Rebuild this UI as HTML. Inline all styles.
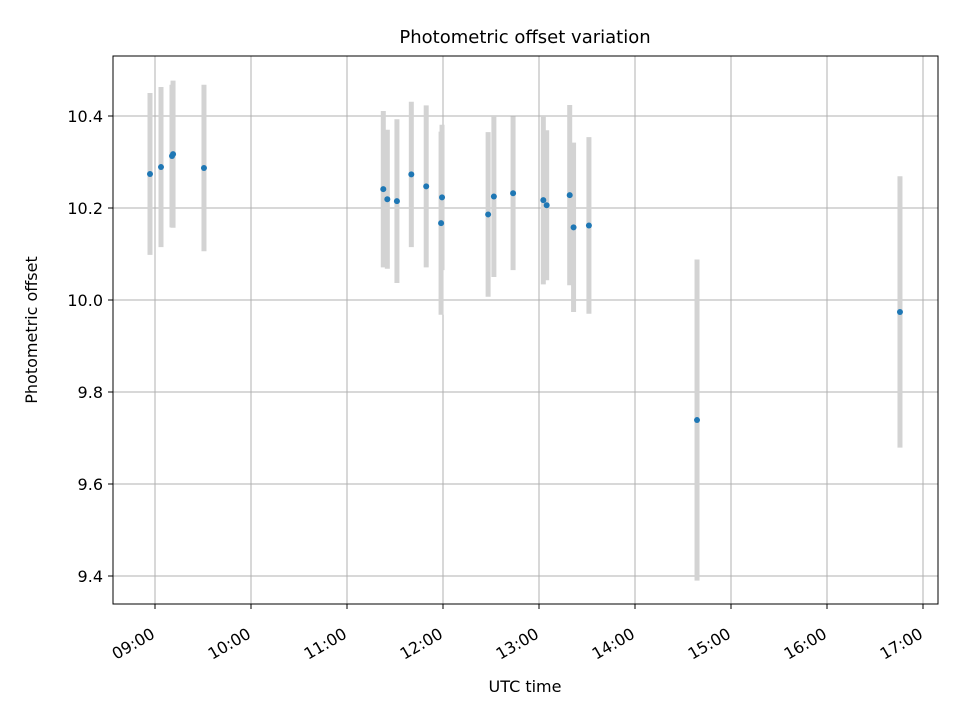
<!DOCTYPE html>
<html><head><meta charset="utf-8"><style>
html,body{margin:0;padding:0;background:#fff;}
svg{display:block;font-family:"DejaVu Sans","Liberation Sans",sans-serif;}
</style></head><body>
<svg id="chart" width="960" height="720" viewBox="0 0 960 720">
<rect width="960" height="720" fill="#fff"/>
<g id="grid"></g><g id="bars"></g><g id="pts"></g><g id="axes"></g>
<text x="525" y="43" text-anchor="middle" font-size="18" fill="#000">Photometric offset variation</text>
<text x="525" y="692" text-anchor="middle" font-size="16" fill="#000">UTC time</text>
<text transform="translate(37,330) rotate(-90)" text-anchor="middle" font-size="16" fill="#000">Photometric offset</text>
</svg>
<script>
const timesH = [8.948,9.0625,9.177,9.188,9.51,11.378,11.42,11.52,11.67,11.825,11.99,11.98,12.47,12.53,12.73,13.045,13.08,13.32,13.36,13.52,14.646,16.76];
const offsets = [10.274,10.289,10.313,10.317,10.287,10.241,10.219,10.215,10.273,10.247,10.223,10.167,10.186,10.225,10.232,10.217,10.206,10.228,10.158,10.162,9.739,9.974];
const errors = [0.176,0.174,0.155,0.16,0.181,0.17,0.151,0.178,0.158,0.176,0.158,0.199,0.179,0.175,0.167,0.183,0.163,0.196,0.184,0.192,0.349,0.295];
const xTicks = [9,10,11,12,13,14,15,16,17];
const xTickLabels = ["09:00","10:00","11:00","12:00","13:00","14:00","15:00","16:00","17:00"];
const yTicks = [9.4,9.6,9.8,10.0,10.2,10.4];
const yTickLabels = ["9.4","9.6","9.8","10.0","10.2","10.4"];

const L=113,R=938,T=56,B=604;
const xs = h => 155 + (h-9)*96;
const ys = v => 300 - (v-10)*460;
const NS="http://www.w3.org/2000/svg";
function mk(tag,attrs,parent){const e=document.createElementNS(NS,tag);for(const k in attrs)e.setAttribute(k,attrs[k]);parent.appendChild(e);return e;}
const grid=document.getElementById('grid'),bars=document.getElementById('bars'),pts=document.getElementById('pts'),axes=document.getElementById('axes');

xTicks.forEach((t,i)=>{
  const x=xs(t);
  const g=mk('line',{x1:x,x2:x,y1:T,y2:B,stroke:'#b0b0b0','stroke-width':1},grid);
  
  
  mk('line',{x1:x,x2:x,y1:B,y2:B+5,stroke:'#000','stroke-width':1},axes);
  const tx=mk('text',{x:x+1,y:B+33,'text-anchor':'end','font-size':16,transform:`rotate(-30 ${x+1} ${B+33})`},axes);
  tx.textContent=xTickLabels[i];
  
  
});
yTicks.forEach((t,i)=>{
  const y=ys(t);
  const g=mk('line',{x1:L,x2:R,y1:y,y2:y,stroke:'#b0b0b0','stroke-width':1},grid);
  
  
  mk('line',{x1:L-5,x2:L,y1:y,y2:y,stroke:'#000','stroke-width':1},axes);
  const tx=mk('text',{x:L-10,y:y+6,'text-anchor':'end','font-size':16},axes);
  tx.textContent=yTickLabels[i];
  
  
});
const frame=mk('rect',{x:L,y:T,width:R-L,height:B-T,fill:'none',stroke:'#000','stroke-width':1},axes);



timesH.forEach((h,i)=>{
  const x=xs(h);
  const b=mk('line',{x1:x,x2:x,y1:ys(offsets[i]+errors[i]),y2:ys(offsets[i]-errors[i]),stroke:'#d3d3d3','stroke-width':5},bars);
  
  
  const c=mk('circle',{cx:x,cy:ys(offsets[i]),r:3,fill:'#1f77b4'},pts);
  
  
});
</script>
</body></html>
